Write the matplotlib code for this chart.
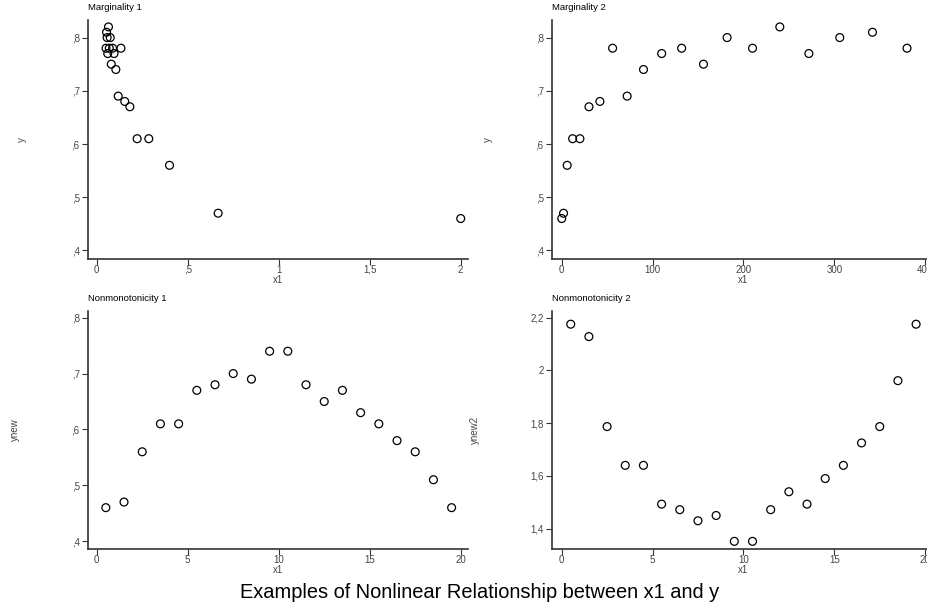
import matplotlib
matplotlib.use("Agg")
import matplotlib.pyplot as plt
from matplotlib.ticker import FuncFormatter

plt.rcParams['font.family'] = ['Liberation Sans', 'DejaVu Sans']

# Marginality 1
m1_x = [2.0, 0.667, 0.4, 0.286, 0.222, 0.182, 0.154, 0.133, 0.118, 0.105,
        0.095, 0.087, 0.080, 0.074, 0.069, 0.0645, 0.0606, 0.057, 0.054, 0.051]
m1_y = [0.46, 0.47, 0.56, 0.61, 0.61, 0.67, 0.68, 0.78, 0.69, 0.74,
        0.77, 0.78, 0.75, 0.80, 0.78, 0.82, 0.77, 0.80, 0.81, 0.78]
# Marginality 2
m2_x = [0, 2, 6, 12, 20, 30, 42, 56, 72, 90, 110, 132, 156, 182, 210,
        240, 272, 306, 342, 380]
m2_y = [0.46, 0.47, 0.56, 0.61, 0.61, 0.67, 0.68, 0.78, 0.69, 0.74,
        0.77, 0.78, 0.75, 0.80, 0.78, 0.82, 0.77, 0.80, 0.81, 0.78]
# Nonmonotonicity 1
n_x = [0.5, 1.5, 2.5, 3.5, 4.5, 5.5, 6.5, 7.5, 8.5, 9.5, 10.5, 11.5, 12.5,
       13.5, 14.5, 15.5, 16.5, 17.5, 18.5, 19.5]
n1_y = [0.46, 0.47, 0.56, 0.61, 0.61, 0.67, 0.68, 0.70, 0.69, 0.74,
        0.74, 0.68, 0.65, 0.67, 0.63, 0.61, 0.58, 0.56, 0.51, 0.46]
# Nonmonotonicity 2
n2_y = [2.175, 2.128, 1.787, 1.640, 1.640, 1.493, 1.472, 1.430, 1.450, 1.352,
        1.352, 1.472, 1.540, 1.493, 1.590, 1.640, 1.725, 1.787, 1.961, 2.175]

titles = ["Marginality 1", "Marginality 2", "Nonmonotonicity 1", "Nonmonotonicity 2"]
ylabels = ["y", "y", "ynew", "ynew2"]
xlabel = "x1"
main_title = "Examples of Nonlinear Relationship between x1 and y"

W, H = 927, 608
fig = plt.figure(figsize=(W / 100, H / 100), dpi=100)


def rect(l, r, t, b):
    return [l / W, 1 - b / H, (r - l) / W, (b - t) / H]


def fmt(v, pos):
    s = ('%g' % round(v, 6))
    if s.startswith('0.'):
        s = s[1:]
    return s.replace('.', ',')


specs = [
    (rect(88, 468, 20, 259), m1_x, m1_y, (-0.048, 2.04), (0.384, 0.833),
     [0, 0.5, 1, 1.5, 2], [0.4, 0.5, 0.6, 0.7, 0.8], 22, 259, 278),
    (rect(552, 927, 20, 259), m2_x, m2_y, (-10.7, 402), (0.384, 0.833),
     [0, 100, 200, 300, 400], [0.4, 0.5, 0.6, 0.7, 0.8], 488, 259, 743),
    (rect(88, 468, 311, 549), n_x, n1_y, (-0.48, 20.4), (0.386, 0.812),
     [0, 5, 10, 15, 20], [0.4, 0.5, 0.6, 0.7, 0.8], 15, 549, 278),
    (rect(552, 927, 311, 549), n_x, n2_y, (-0.53, 20.1), (1.323, 2.225),
     [0, 5, 10, 15, 20], [1.4, 1.6, 1.8, 2.0, 2.2], 475, 549, 743),
]

axcol = '#333333'
for i, (r, xs, ys, xl, yl, xt, yt, ylx, bot, xlx) in enumerate(specs):
    ax = fig.add_axes(r)
    ax.scatter(xs, ys, s=32, facecolors='none', edgecolors='black',
               linewidths=0.9, clip_on=False, zorder=3)
    ax.set_xlim(*xl)
    ax.set_ylim(*yl)
    ax.set_xticks(xt)
    ax.set_yticks(yt)
    ax.xaxis.set_major_formatter(FuncFormatter(fmt))
    ax.yaxis.set_major_formatter(FuncFormatter(fmt))
    for s in ['top', 'right']:
        ax.spines[s].set_visible(False)
    for s in ['left', 'bottom']:
        ax.spines[s].set_color(axcol)
        ax.spines[s].set_linewidth(1.2)
    ax.tick_params(direction='out', length=4, width=0.8, color=axcol,
                   labelsize=7, labelcolor='#444444')
    ax.tick_params(axis='x', pad=0.3)
    ax.tick_params(axis='y', pad=2)
    ax.set_title(titles[i], fontsize=6.8, loc='left', x=0.0, pad=7, color='black')
    fig.text(xlx / W, 1 - (bot + 21) / H, xlabel, fontsize=7, color='#444444',
             ha='center', va='center')
    fig.text(ylx / W, r[1] + r[3] / 2, ylabels[i], rotation=90, fontsize=7,
             color='#444444', ha='center', va='center')

fig.text(480 / W, 1 - 593 / H, main_title, fontsize=14.4, ha='center', va='center',
         color='black')

fig.savefig('out.png', dpi=100)
